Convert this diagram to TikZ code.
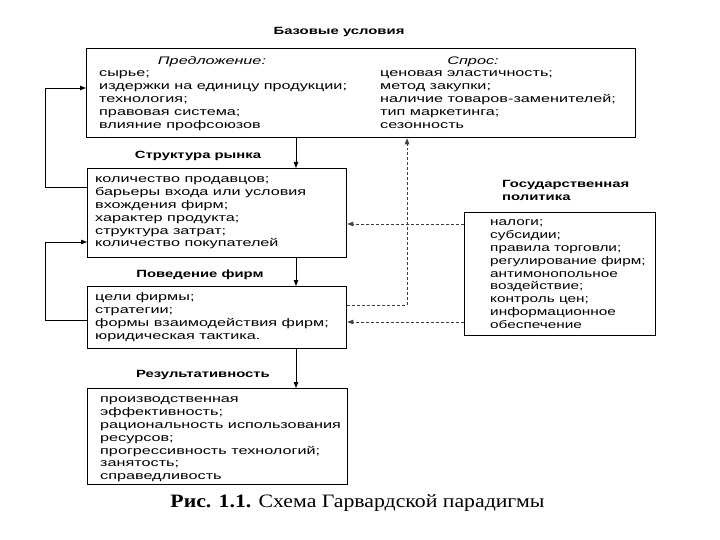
\documentclass[tikz,border=0pt]{standalone}
\usepackage{fontspec}
\setmainfont{Liberation Serif}
\newfontfamily\wsans[FakeStretch=1.48]{Liberation Sans}
\newfontfamily\gsans[FakeStretch=1.40]{Liberation Sans}
\newfontfamily\tsans[FakeStretch=1.42]{Liberation Sans}
\newfontfamily\capserif[FakeStretch=1.15]{Liberation Serif}
\newcommand{\fl}{\rule{0pt}{8bp}}
\usetikzlibrary{arrows.meta}
\begin{document}
\begin{tikzpicture}[x=1bp,y=-1bp,
  box/.style={draw, line width=1.3bp, inner sep=0pt, anchor=north west},
  txt/.style={font=\wsans\fontsize{11}{13}\selectfont, align=left, inner sep=0pt, anchor=north west},
  ttl/.style={font=\tsans\bfseries\fontsize{10.5}{13}\selectfont, inner sep=0pt},
  hdr/.style={font=\wsans\itshape\fontsize{11}{13}\selectfont, inner sep=0pt},
  arr/.style={line width=0.9bp, -{Triangle[length=6bp,width=4.5bp]}},
  darr/.style={line width=0.8bp, densely dashed, black!75, -{Triangle[length=6bp,width=4.5bp]}}]
\useasboundingbox (0,0) rectangle (720,540);
% boxes
\node[box, minimum width=549bp, minimum height=89bp] (base) at (86,48) {};
\node[box, minimum width=259bp, minimum height=89bp] (struct) at (87,168) {};
\node[box, minimum width=259bp, minimum height=62bp] (behav) at (87,286) {};
\node[box, minimum width=260bp, minimum height=96bp] (res) at (87,388) {};
\node[box, minimum width=191bp, minimum height=123bp] (gov) at (464,212) {};
% titles
\node[ttl] (tbase) at (339,32) {Базовые условия};
\node[ttl] (tstruct) at (198,156) {Структура рынка};
\node[ttl] (tbehav) at (200,275) {Поведение фирм};
\node[ttl] (tres) at (203,375) {Результативность};
\node[ttl, align=left, anchor=north west, font=\tsans\bfseries\fontsize{10.5}{13}\selectfont] (tgov) at (502,180) {Государственная\\политика};
% top box contents
\node[hdr] (hsup) at (212,62) {Предложение:};
\node[hdr] (hdem) at (473,62) {Спрос:};
\node[txt] (sup) at (99,68) {\fl сырье;\\издержки на единицу продукции;\\технология;\\правовая система;\\влияние профсоюзов};
\node[txt] (dem) at (380,68) {\fl ценовая эластичность;\\метод закупки;\\наличие товаров-заменителей;\\тип маркетинга;\\сезонность};
% other contents
\node[txt] (lstruct) at (95,174) {\fl количество продавцов;\\барьеры входа или условия\\вхождения фирм;\\характер продукта;\\структура затрат;\\количество покупателей};
\node[txt] (lbehav) at (95,292) {\fl цели фирмы;\\стратегии;\\формы взаимодействия фирм;\\юридическая тактика.};
\node[txt] (lres) at (100,394) {\fl производственная\\эффективность;\\рациональность использования\\ресурсов;\\прогрессивность технологий;\\занятость;\\справедливость};
\node[txt, font=\gsans\fontsize{11}{13}\selectfont] (lgov) at (490,217) {\fl налоги;\\субсидии;\\правила торговли;\\регулирование фирм;\\антимонопольное\\воздействие;\\контроль цен;\\информационное\\обеспечение};
% caption
\node[inner sep=0pt, font=\capserif\fontsize{19}{22}\selectfont] (cap) at (357.5,503) {\textbf{Рис. 1.1.} Схема Гарвардской парадигмы};
% helper coordinates
\coordinate (cx) at (296,0);
\coordinate (lx) at (45,0);
\coordinate (fx) at (407,0);
\coordinate (y1) at (0,187);
\coordinate (y2) at (0,88);
\coordinate (y3) at (0,320);
\coordinate (y4) at (0,242);
\coordinate (y5) at (0,224);
\coordinate (y6) at (0,322);
\coordinate (y7) at (0,305);
% connectors
\draw[arr] (base.south -| cx) -- (struct.north -| cx);
\draw[arr] (struct.south -| cx) -- (behav.north -| cx);
\draw[arr] (behav.south -| cx) -- (res.north -| cx);
\draw[arr] (struct.west |- y1) -| (lx |- y2) -- (base.west |- y2);
\draw[arr] (behav.west |- y3) -| (lx |- y4) -- (struct.west |- y4);
\draw[darr] (gov.west |- y5) -- (struct.east |- y5);
\draw[darr] (gov.west |- y6) -- (behav.east |- y6);
\draw[darr] (behav.east |- y7) -| (base.south -| fx);
\end{tikzpicture}
\end{document}
